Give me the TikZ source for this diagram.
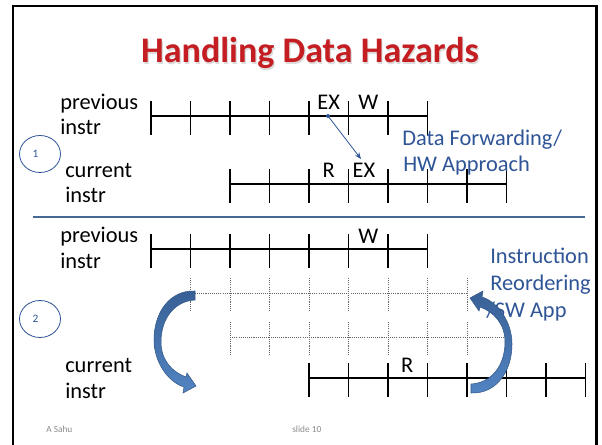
\documentclass[tikz,border=0pt]{standalone}
\usepackage{fontspec}
\setmainfont{Carlito}
\usetikzlibrary{arrows.meta,shapes.geometric}

\definecolor{titlered}{RGB}{196,30,34}
\definecolor{noteblue}{RGB}{47,85,151}
\definecolor{dividerblue}{RGB}{70,105,150}
\definecolor{arrowdark}{RGB}{56,96,150}
\definecolor{arrowlight}{RGB}{82,132,194}
\definecolor{arrowedge}{RGB}{52,88,136}
\definecolor{footgray}{RGB}{140,140,140}

% one pipeline row: #1 = y of the line, #2/#3 = first/last tick index, #4 = style
\newcommand{\stagerow}[4]{%
  \draw[#4] ({151+39.5*#2},#1) -- ({151+39.5*#3},#1);
  \foreach \k in {#2,...,#3}
    \draw[#4] ({151+39.5*\k},{#1-15}) -- ({151+39.5*\k},{#1+19});
}

% curved block arrow (tail at top right, head at bottom right)
\newcommand{\bentarrowpath}{%
  (195,291) .. controls (170,290) and (154,312) .. (154,340)
  .. controls (154,362) and (168,382) .. (184,387)
  -- (183,393) -- (196,386) -- (187,373) -- (186,377)
  .. controls (172,372) and (161,360) .. (161,342)
  .. controls (161,318) and (175,301) .. (195,300) -- cycle}

\begin{document}
\begin{tikzpicture}[x=0.75pt,y=-0.75pt,
  stage/.style={line width=0.9pt, draw=black},
  ghost/.style={line width=0.7pt, draw=black!60, dash pattern=on 0.8pt off 0.8pt},
  body/.style={anchor=base west, inner sep=0pt, font=\fontsize{16.8}{20}\selectfont},
  stagelbl/.style={anchor=base, inner sep=0pt, font=\fontsize{16.8}{20}\selectfont},
  note/.style={anchor=base west, inner sep=0pt, text=noteblue, font=\fontsize{16.8}{20}\selectfont},
  badge/.style={draw=noteblue, line width=0.6pt, ellipse, inner sep=0pt,
                minimum width=30.75pt, minimum height=27.75pt},
  badgenum/.style={inner sep=0pt, text=noteblue, font=\fontsize{8.5}{10}\selectfont},
  foot/.style={anchor=base west, inner sep=0pt, text=footgray, font=\fontsize{7}{8}\selectfont},
  bigarrow/.style={draw=arrowedge, line width=0.4pt}
]
\useasboundingbox (0,0) rectangle (602,445);
\fill[white] (0,0) rectangle (602,445);

% slide frame
\draw[line width=2.2pt, line join=miter] (13,446) -- (13,6) -- (596.5,6) -- (596.5,446);

% title with a soft shadow
\node[inner sep=0pt, anchor=base, text=black!14, font=\fontsize{27}{32}\bfseries]
  at (311.2,64.2) {Handling Data Hazards};
\node[inner sep=0pt, anchor=base, text=titlered, font=\fontsize{27}{32}\bfseries]
  (title) at (310,63) {Handling Data Hazards};

% ---- case 1: forwarding ----
\node[body] (prev1a) at (60,110) {previous};
\node[body] (prev1b) at (60,135) {instr};
\stagerow{116}{0}{7}{stage}
\node[stagelbl] (ex1) at (328.75,110) {EX};
\node[stagelbl] (w1) at (368.25,110) {W};

\node[badge] (badge1) at (40,154) {};
\node[badgenum] (num1) at (35.5,154) {1};

\node[body] (cur1a) at (65,178) {current};
\node[body] (cur1b) at (65,203) {instr};
\stagerow{184}{2}{9}{stage}
\node[stagelbl] (r2) at (328.75,178) {R};
\node[stagelbl] (ex2) at (364,178) {EX};

\coordinate (fwsrc) at (328,116);
\coordinate (fwdst) at (361,159);
\fill[noteblue] (fwsrc) circle (2);
\draw[noteblue, line width=0.6pt, -{Stealth[length=5pt,width=4pt]}] (fwsrc) -- (fwdst);

\node[note] (fw1) at (402,146) {Data Forwarding/};
\node[note] (fw2) at (403,172) {HW Approach};

% divider
\draw[dividerblue, line width=0.8pt] (33,217) -- (585,217);

% ---- case 2: reordering ----
\node[body] (prev2a) at (60,242) {previous};
\node[body] (prev2b) at (60,268) {instr};
\stagerow{249}{0}{7}{stage}
\node[stagelbl] (w3) at (368.25,243) {W};

\stagerow{293}{1}{8}{ghost}
\stagerow{337}{2}{9}{ghost}

\node[badge] (badge2) at (40,319) {};
\node[badgenum] (num2) at (35.5,319) {2};

\node[body] (cur2a) at (65,372) {current};
\node[body] (cur2b) at (65,398) {instr};
\stagerow{378}{4}{11}{stage}
\node[stagelbl] (r4) at (407.25,372) {R};

\node[note] (ro1) at (490,263) {Instruction};
\node[note] (ro2) at (490,290) {Reordering};
\node[note] (ro3) at (486,317) {/SW App};

% curved block arrows
\shade[bigarrow, top color=arrowdark, bottom color=arrowlight] \bentarrowpath;
\begin{scope}[rotate around={180:(333,342)}]
  \shade[bigarrow, top color=arrowdark, bottom color=arrowlight] \bentarrowpath;
\end{scope}

% footer
\node[foot] (author) at (46,432) {A Sahu};
\node[foot] (slideno) at (292,432) {slide 10};
\end{tikzpicture}
\end{document}
